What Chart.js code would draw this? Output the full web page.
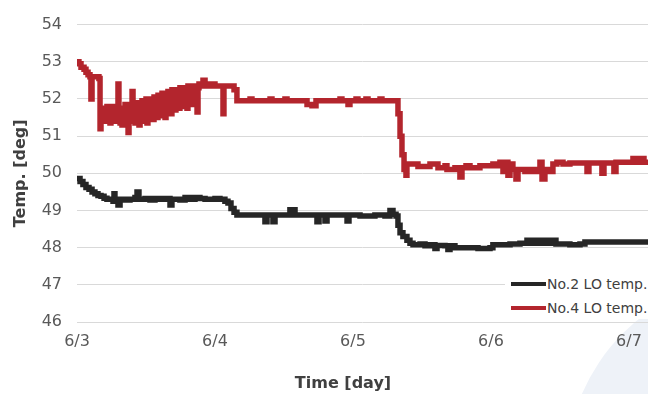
<!DOCTYPE html>
<html><head><meta charset="utf-8">
<script src="https://cdn.jsdelivr.net/npm/chart.js@4"></script>
<style>
html,body{margin:0;padding:0;background:#fff;}
#wrap{position:relative;width:648px;height:394px;overflow:hidden;background:#fff;}
#deco{position:absolute;left:566px;top:276px;width:390px;height:390px;border-radius:50%;background:#eef2f8;}
#c{position:absolute;left:0;top:0;}
#legend{position:absolute;left:505px;top:272px;width:143px;height:47px;background:#fff;font:14px 'DejaVu Sans',sans-serif;color:#404040;}
.item{position:absolute;left:6px;height:18px;display:flex;align-items:center;white-space:nowrap;}
.sw{width:35px;height:4px;margin-right:1px;}
#xtitle{position:absolute;top:373px;left:243px;width:200px;text-align:center;font:bold 16px 'DejaVu Sans',sans-serif;color:#404040;line-height:19px;}
</style>
</head><body>
<div id="wrap">
<div id="deco"></div>
<canvas id="c" width="648" height="394"></canvas>
<div id="legend">
  <div class="item" style="top:3px"><div class="sw" style="background:#262626"></div>No.2 LO temp.</div>
  <div class="item" style="top:27px"><div class="sw" style="background:#b3252d"></div>No.4 LO temp.</div>
</div>
<div id="xtitle">Time [day]</div>
</div>
<script>
// time in days since 6/3 00:00
const xTickLabels = ['6/3','6/4','6/5','6/6','6/7'];
const yTickValues = [46,47,48,49,50,51,52,53,54];

const no2Days = [0,0.022,0.043,0.065,0.087,0.109,0.130,0.152,0.174,0.196,0.217,0.239,0.261,0.268,0.275,0.297,0.312,0.348,0.384,0.420,0.435,0.449,0.493,0.529,0.565,0.601,0.638,0.674,0.688,0.746,0.783,0.819,0.855,0.891,0.928,0.964,1.000,1.036,1.072,1.094,1.116,1.138,1.159,1.362,1.377,1.420,1.435,1.543,1.580,1.739,1.754,1.797,1.812,1.957,1.971,2.051,2.159,2.232,2.268,2.290,2.312,2.326,2.341,2.362,2.391,2.413,2.435,2.486,2.522,2.558,2.594,2.609,2.667,2.688,2.703,2.739,2.848,2.906,2.993,3.014,3.138,3.210,3.261,3.283,3.319,3.355,3.391,3.428,3.449,3.471,3.572,3.645,3.681,4.138];
const no2Temps = [49.86,49.78,49.70,49.62,49.57,49.50,49.45,49.40,49.38,49.33,49.30,49.30,49.25,49.45,49.28,49.15,49.30,49.28,49.30,49.35,49.50,49.30,49.32,49.28,49.32,49.30,49.32,49.15,49.30,49.28,49.35,49.30,49.35,49.32,49.30,49.30,49.32,49.30,49.25,49.20,49.05,48.95,48.88,48.70,48.88,48.70,48.88,49.02,48.88,48.70,48.88,48.72,48.88,48.72,48.88,48.85,48.88,48.85,49.00,48.90,48.85,48.60,48.40,48.30,48.20,48.12,48.08,48.10,48.05,48.08,47.98,48.06,48.05,47.95,48.05,48.00,48.00,47.98,48.00,48.08,48.10,48.12,48.20,48.12,48.20,48.12,48.20,48.12,48.20,48.10,48.08,48.10,48.15,48.15];

const no4Days = [0,0.014,0.029,0.051,0.065,0.080,0.094,0.101,0.109,0.130,0.145,0.159,0.167,
0.174,0.181,0.188,0.196,0.203,0.210,0.217,0.225,0.232,0.239,0.246,0.254,0.261,0.268,0.275,0.283,0.290,0.297,0.304,0.312,
0.319,0.326,0.333,0.341,0.348,0.355,0.362,0.370,0.377,0.384,0.391,0.399,0.406,0.413,0.420,0.428,0.435,0.442,0.449,0.457,
0.464,0.471,0.478,0.486,0.493,0.500,0.507,0.514,0.522,0.529,0.536,0.543,0.551,0.558,0.565,0.572,0.580,0.587,0.594,0.601,
0.609,0.616,0.623,0.630,0.638,0.645,0.652,0.659,0.667,0.674,0.681,0.688,0.696,0.703,0.710,0.717,0.725,0.732,0.739,0.746,
0.754,0.761,0.768,0.775,0.783,0.790,0.797,0.804,0.812,0.819,0.826,0.833,0.841,0.848,0.855,0.862,0.870,0.877,0.884,0.891,
0.899,0.913,0.928,0.964,1.000,1.051,1.058,1.065,1.123,1.138,1.159,1.254,1.268,1.399,1.413,1.507,1.522,1.667,1.703,1.732,1.906,1.920,1.964,1.978,2.022,2.036,2.094,2.109,2.196,2.210,2.312,2.326,2.341,2.355,2.370,2.384,2.391,2.449,2.471,2.543,2.558,2.601,2.616,2.667,2.681,2.739,2.775,2.790,2.819,2.848,2.906,2.920,2.993,3.014,3.043,3.065,3.087,3.101,3.123,3.138,3.159,3.181,3.196,3.246,3.283,3.319,3.355,3.370,3.391,3.413,3.449,3.478,3.522,3.572,3.681,3.696,3.710,3.790,3.804,3.819,3.877,3.891,3.906,4.007,4.029,4.051,4.080,4.109,4.138];
const no4Temps = [53.00,52.95,52.85,52.80,52.72,52.65,52.60,52.00,52.60,52.60,52.60,52.55,51.20,
51.70,51.45,51.75,51.50,51.65,51.40,51.80,51.55,51.70,51.35,51.75,51.50,51.80,51.40,51.70,51.55,51.80,52.40,51.60,51.35,
51.75,51.30,51.70,51.45,51.85,51.35,51.70,51.10,51.60,51.40,51.85,52.20,51.50,51.80,51.35,51.90,51.45,51.80,51.30,51.90,
51.50,51.95,51.40,51.85,51.55,52.00,51.35,51.90,51.50,52.00,51.60,51.95,51.45,52.05,51.60,52.00,51.50,52.10,51.65,52.05,
51.55,52.15,51.70,52.10,51.50,52.00,51.65,52.20,51.75,52.10,51.60,52.25,51.80,52.15,51.70,52.25,51.85,52.20,51.75,52.30,
51.90,52.25,51.80,52.30,51.95,52.20,51.75,52.35,51.95,52.30,51.85,52.35,52.00,52.30,51.90,52.35,51.65,52.30,52.40,52.35,
52.40,52.50,52.35,52.40,52.35,52.35,51.60,52.35,52.35,52.25,51.95,52.00,51.95,52.00,51.95,52.00,51.95,51.85,51.82,51.95,52.00,51.95,51.85,51.95,52.00,51.95,52.00,51.95,52.00,51.95,51.95,51.60,51.00,50.50,50.10,49.95,50.25,50.25,50.18,50.18,50.25,50.25,50.15,50.20,50.10,50.15,49.90,50.15,50.20,50.15,50.15,50.20,50.20,50.25,50.20,50.30,50.05,50.30,49.95,50.25,50.10,49.85,50.10,50.05,50.10,50.05,50.30,49.85,50.10,50.05,50.25,50.30,50.25,50.28,50.28,50.05,50.28,50.28,50.00,50.28,50.28,50.05,50.30,50.30,50.40,50.30,50.40,50.30,50.35];

const FONT = "'DejaVu Sans', sans-serif";
const toPts = (xs, ys) => xs.map((x, i) => ({x: x, y: ys[i]}));

new Chart(document.getElementById('c'), {
  type: 'line',
  data: {
    datasets: [
      {label: 'No.2 LO temp.', data: toPts(no2Days, no2Temps), borderColor: '#262626', backgroundColor: '#262626', borderWidth: 5.5, pointRadius: 0, stepped: true, fill: false},
      {label: 'No.4 LO temp.', data: toPts(no4Days, no4Temps), borderColor: '#b3252d', backgroundColor: '#b3252d', borderWidth: 5.5, pointRadius: 0, stepped: true, fill: false}
    ]
  },
  options: {
    responsive: false, animation: false,
    layout: {padding: {top: 22, right: 0, bottom: 0, left: 0}},
    plugins: {legend: {display: false}, tooltip: {enabled: false}},
    scales: {
      x: {
        type: 'linear', min: 0, max: 4.138,
        afterBuildTicks: s => { s.ticks = xTickLabels.map((_, i) => ({value: i})); },
        ticks: {callback: v => xTickLabels[v], padding: 10, maxRotation: 0, autoSkip: false, font: {family: FONT, size: 16}, color: '#595959'},
        grid: {display: false, drawTicks: false},
        border: {display: false},
        afterFit: s => { s.height = 72; s.paddingLeft = 0; s.paddingRight = 0; }
      },
      y: {
        min: 46, max: 54,
        afterBuildTicks: s => { s.ticks = yTickValues.map(v => ({value: v})); },
        ticks: {padding: 15, font: {family: FONT, size: 16}, color: '#595959'},
        grid: {color: '#d9d9d9', lineWidth: 1, drawTicks: false},
        border: {display: false},
        title: {display: true, text: 'Temp. [deg]', font: {family: FONT, size: 16, weight: 'bold'}, color: '#404040', padding: {top: 11, bottom: 0}},
        afterFit: s => { s.width = 77; }
      }
    }
  }
});
</script>
</body></html>
